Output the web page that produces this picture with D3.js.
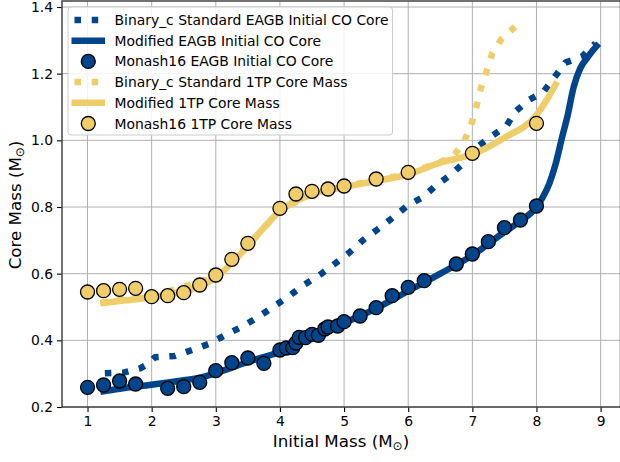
<!DOCTYPE html>
<html>
<head>
<meta charset="utf-8">
<script src="https://cdn.jsdelivr.net/npm/d3@7"></script>
<style>
  html, body { margin: 0; padding: 0; background: #fff; }
  svg { display: block; font-family: "DejaVu Sans", sans-serif; }
</style>
</head>
<body>
<svg id="chart" width="620" height="462"></svg>
<script>
// ---- data: initial mass (Msun) vs core mass (Msun) ----
const xTicks = [1, 2, 3, 4, 5, 6, 7, 8, 9];
const yTicks = [0.2, 0.4, 0.6, 0.8, 1.0, 1.2, 1.4];

// Binary_c standard EAGB initial CO core
const bcEagbMass = [1.27, 1.56, 1.82, 1.95, 2.05, 2.36, 2.63, 2.89, 3.15, 3.41, 3.67, 3.9, 4.13, 4.37, 4.62, 4.85, 5.08, 5.3, 5.53, 5.76, 5.98, 6.24, 6.44, 6.66, 6.86, 7.05, 7.29, 7.53, 7.67, 7.88, 8.11, 8.28, 8.45, 8.71, 8.92];
const bcEagbCore = [0.301, 0.303, 0.316, 0.33, 0.349, 0.353, 0.371, 0.389, 0.416, 0.441, 0.471, 0.501, 0.531, 0.566, 0.596, 0.629, 0.663, 0.701, 0.734, 0.768, 0.803, 0.831, 0.866, 0.896, 0.931, 0.976, 1.011, 1.043, 1.086, 1.121, 1.146, 1.189, 1.233, 1.251, 1.291];

// Modified EAGB initial CO core
const modEagbMass = [1.2, 1.5, 2.0, 2.5, 2.75, 3.0, 3.5, 4.0, 4.5, 5.0, 5.5, 6.0, 6.5, 7.0, 7.5, 7.75, 8.0, 8.1, 8.2, 8.3, 8.4, 8.48, 8.58, 8.68, 8.8, 8.97];
const modEagbCore = [0.246, 0.255, 0.267, 0.28, 0.288, 0.302, 0.335, 0.366, 0.41, 0.452, 0.496, 0.548, 0.6, 0.655, 0.725, 0.758, 0.8, 0.83, 0.87, 0.93, 1.01, 1.07, 1.16, 1.215, 1.25, 1.29];

// Monash16 EAGB initial CO core
const monEagbMass = [1.0, 1.25, 1.5, 1.75, 2.25, 2.5, 2.75, 3.0, 3.25, 3.5, 3.75, 4.0, 4.1, 4.2, 4.25, 4.3, 4.4, 4.5, 4.6, 4.7, 4.75, 4.9, 5.0, 5.25, 5.5, 5.75, 6.0, 6.25, 6.75, 7.0, 7.25, 7.5, 7.75, 8.0];
const monEagbCore = [0.259, 0.266, 0.278, 0.269, 0.256, 0.261, 0.274, 0.309, 0.333, 0.347, 0.331, 0.371, 0.377, 0.378, 0.392, 0.409, 0.408, 0.418, 0.415, 0.434, 0.44, 0.443, 0.456, 0.473, 0.498, 0.534, 0.559, 0.579, 0.629, 0.659, 0.696, 0.738, 0.761, 0.803];

// Binary_c standard first thermal pulse core mass
const bc1tpMass = [1.2, 2.0, 3.0, 3.5, 4.0, 4.5, 5.0, 5.5, 6.0, 6.5, 6.7, 6.86, 6.98, 7.06, 7.13, 7.22, 7.31, 7.46, 7.68, 7.72];
const bc1tpCore = [0.513, 0.532, 0.59, 0.685, 0.79, 0.84, 0.862, 0.88, 0.9, 0.935, 0.952, 0.991, 1.046, 1.099, 1.154, 1.206, 1.261, 1.306, 1.343, 1.35];

// Modified first thermal pulse core mass
const mod1tpMass = [1.2, 1.6, 2.0, 2.5, 2.75, 3.0, 3.25, 3.5, 3.75, 4.0, 4.25, 4.5, 4.75, 5.0, 5.5, 6.0, 6.5, 7.0, 7.5, 8.0, 8.16, 8.32];
const mod1tpCore = [0.511, 0.52, 0.53, 0.548, 0.563, 0.588, 0.632, 0.683, 0.738, 0.788, 0.818, 0.838, 0.85, 0.86, 0.878, 0.898, 0.933, 0.958, 1.008, 1.076, 1.121, 1.176];

// Monash16 first thermal pulse core mass
const mon1tpMass = [1.0, 1.25, 1.5, 1.75, 2.0, 2.25, 2.5, 2.75, 3.0, 3.25, 3.5, 4.0, 4.25, 4.5, 4.75, 5.0, 5.5, 6.0, 7.0, 8.0];
const mon1tpCore = [0.545, 0.549, 0.553, 0.556, 0.531, 0.534, 0.543, 0.566, 0.596, 0.643, 0.691, 0.796, 0.839, 0.847, 0.854, 0.863, 0.884, 0.904, 0.961, 1.051];

const BLUE = "#00458b";
const GOLD = "#efcd6a";

const zip = (xs, ys) => xs.map((x, i) => ({ x, y: ys[i] }));

const svg = d3.select("#chart");
const plot = { left: 62, right: 620.5, top: 1, bottom: 407 };

const x = d3.scaleLinear().domain([0.602, 9.31]).range([plot.left, plot.right]);
const y = d3.scaleLinear().domain([0.2, 1.418]).range([plot.bottom, plot.top]);

// grid
const grid = svg.append("g").attr("stroke", "#b0b0b0").attr("stroke-width", 1);
xTicks.forEach(t => grid.append("line")
  .attr("x1", x(t)).attr("x2", x(t)).attr("y1", plot.top).attr("y2", plot.bottom));
yTicks.forEach(t => grid.append("line")
  .attr("x1", plot.left).attr("x2", plot.right).attr("y1", y(t)).attr("y2", y(t)));

// clip region for data marks
svg.append("clipPath").attr("id", "plotClip").append("rect")
  .attr("x", plot.left).attr("y", plot.top)
  .attr("width", plot.right - plot.left).attr("height", plot.bottom - plot.top);
const marks = svg.append("g").attr("clip-path", "url(#plotClip)");

const smooth = d3.line().x(d => x(d.x)).y(d => y(d.y)).curve(d3.curveMonotoneX);
const straight = d3.line().x(d => x(d.x)).y(d => y(d.y));

const LW = 6.5;
const DOTS = `${LW} ${LW * 1.65}`;

function drawLine(data, color, dotted, gen) {
  marks.append("path")
    .attr("d", gen(data))
    .attr("fill", "none")
    .attr("stroke", color)
    .attr("stroke-width", LW)
    .attr("stroke-linecap", "butt")
    .attr("stroke-linejoin", "round")
    .attr("stroke-dasharray", dotted ? DOTS : null);
}
function drawDots(data, color) {
  marks.append("g").selectAll("circle").data(data).join("circle")
    .attr("cx", d => x(d.x)).attr("cy", d => y(d.y)).attr("r", 7)
    .attr("fill", color).attr("stroke", "#000").attr("stroke-width", 1.3);
}

drawLine(zip(bcEagbMass, bcEagbCore), BLUE, true, straight);
drawLine(zip(modEagbMass, modEagbCore), BLUE, false, smooth);
drawDots(zip(monEagbMass, monEagbCore), BLUE);
drawLine(zip(bc1tpMass, bc1tpCore), GOLD, true, straight);
drawLine(zip(mod1tpMass, mod1tpCore), GOLD, false, smooth);
drawDots(zip(mon1tpMass, mon1tpCore), GOLD);

// axes
const xAxis = svg.append("g").attr("transform", `translate(0,${plot.bottom})`)
  .call(d3.axisBottom(x).tickValues(xTicks).tickFormat(d3.format("d")).tickSize(5).tickPadding(4));
const yAxis = svg.append("g").attr("transform", `translate(${plot.left},0)`)
  .call(d3.axisLeft(y).tickValues(yTicks).tickFormat(d3.format(".1f")).tickSize(5).tickPadding(4));
[xAxis, yAxis].forEach(a => {
  a.select(".domain").remove();
  a.selectAll("line").attr("stroke", "#000").attr("stroke-width", 1.1);
  a.selectAll("text").attr("font-size", 13.9).attr("fill", "#000")
    .attr("font-family", "DejaVu Sans, sans-serif");
});

// spines
svg.append("rect")
  .attr("x", plot.left).attr("y", plot.top)
  .attr("width", plot.right - plot.left).attr("height", plot.bottom - plot.top)
  .attr("fill", "none").attr("stroke", "#444").attr("stroke-width", 1.5);

// axis labels with solar subscript
function solarLabel(sel, base) {
  sel.append("tspan").text(base + " (M");
  sel.append("tspan").text("\u2299").attr("font-size", 12).attr("dy", 3);
  sel.append("tspan").text(")").attr("dy", -3);
}
const xl = svg.append("text").attr("x", 341).attr("y", 447)
  .attr("text-anchor", "middle").attr("font-size", 16.7).attr("fill", "#000");
solarLabel(xl, "Initial Mass");
const yl = svg.append("text").attr("transform", "translate(21,205) rotate(-90)")
  .attr("text-anchor", "middle").attr("font-size", 16.7).attr("fill", "#000");
solarLabel(yl, "Core Mass");

// legend
const legendItems = [
  { label: "Binary_c Standard EAGB Initial CO Core", color: BLUE, kind: "dots" },
  { label: "Modified EAGB Initial CO Core", color: BLUE, kind: "line" },
  { label: "Monash16 EAGB Initial CO Core", color: BLUE, kind: "marker" },
  { label: "Binary_c Standard 1TP Core Mass", color: GOLD, kind: "dots" },
  { label: "Modified 1TP Core Mass", color: GOLD, kind: "line" },
  { label: "Monash16 1TP Core Mass", color: GOLD, kind: "marker" }
];
const lg = svg.append("g");
const box = lg.append("rect").attr("x", 68).attr("y", 7).attr("rx", 3)
  .attr("fill", "#fff").attr("fill-opacity", 0.85).attr("stroke", "#cccccc").attr("stroke-width", 1);
let maxW = 0;
legendItems.forEach((it, i) => {
  const cy = 20 + i * 20.7;
  if (it.kind === "marker") {
    lg.append("circle").attr("cx", 88.3).attr("cy", cy).attr("r", 7)
      .attr("fill", it.color).attr("stroke", "#000").attr("stroke-width", 1.3);
  } else {
    lg.append("line").attr("x1", 71.5).attr("x2", 105).attr("y1", cy).attr("y2", cy)
      .attr("stroke", it.color).attr("stroke-width", LW)
      .attr("stroke-dasharray", it.kind === "dots" ? `${LW} ${LW * 1.65}` : null)
      .attr("stroke-dashoffset", it.kind === "dots" ? -3 : null);
  }
  const t = lg.append("text").attr("x", 114.5).attr("y", cy).attr("dy", "0.36em")
    .attr("font-size", 13.9).attr("fill", "#000").text(it.label);
  maxW = Math.max(maxW, t.node().getComputedTextLength());
});
box.attr("width", 114.5 + maxW + 4 - 68).attr("height", 128);
</script>
</body>
</html>
